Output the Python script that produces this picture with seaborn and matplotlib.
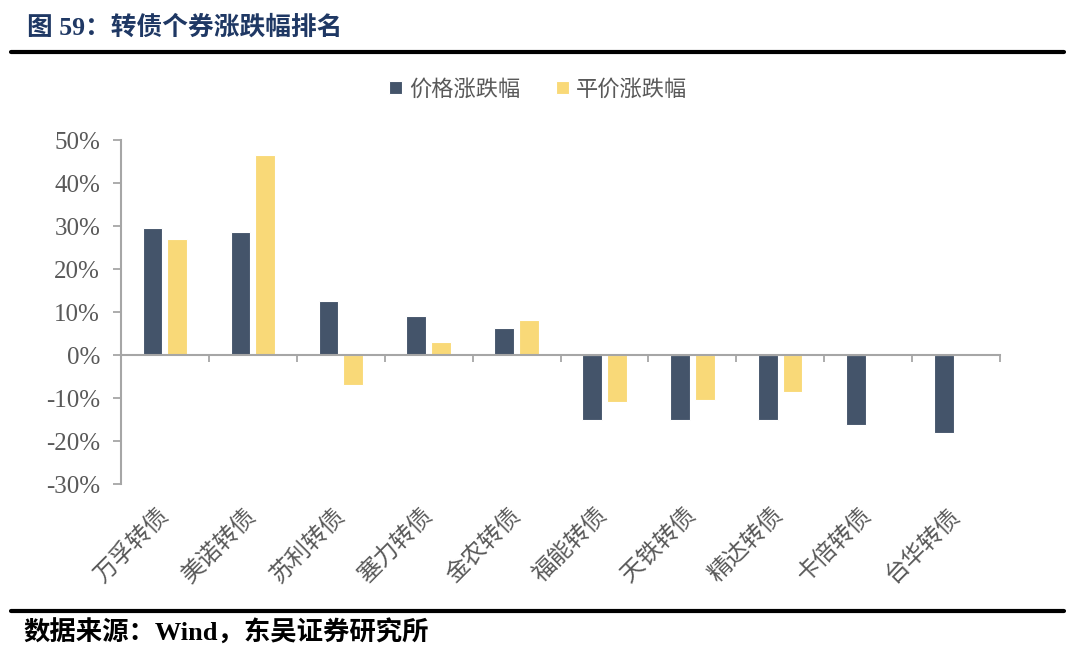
import numpy as np
import pandas as pd
import matplotlib
matplotlib.use('Agg')
import matplotlib.pyplot as plt
import seaborn as sns

# data (percent)
bonds = ['万孚转债', '美诺转债', '苏利转债', '塞力转债', '金农转债',
         '福能转债', '天铁转债', '精达转债', '卡倍转债', '台华转债']
price_chg = [29.5, 28.6, 12.6, 9.1, 6.3, -15.1, -15.1, -15.1, -16.2, -18.1]
parity_chg = [27.0, 46.6, -7.0, 3.0, 8.1, -11.0, -10.5, -8.5, np.nan, np.nan]
series_names = ['价格涨跌幅', '平价涨跌幅']
yticks = [-30, -20, -10, 0, 10, 20, 30, 40, 50]

df = pd.DataFrame({
    'bond': bonds * 2,
    'value': price_chg + parity_chg,
    'series': [series_names[0]] * len(bonds) + [series_names[1]] * len(bonds),
})

sns.set_style('white')
plt.rcParams['font.family'] = ['Liberation Serif', 'Noto Sans CJK SC', 'DejaVu Sans']

dark = '#44546A'
yellow = '#F9D978'
grey = '#A6A6A6'
txt = '#595959'

fig = plt.figure(figsize=(10.8, 6.58), dpi=100)
ax = fig.add_axes([0.112, 0.2644, 0.814, 0.5228])

sns.barplot(data=df, x='bond', y='value', hue='series', palette=[dark, yellow],
            width=0.56, gap=0.2, saturation=1, edgecolor='white', linewidth=0.8, ax=ax)

ax.set_xlim(-0.5, len(bonds) - 0.5)
ax.set_ylim(-30, 50)
ax.set_yticks(yticks)
ax.set_yticklabels([f'{v}%' for v in yticks], fontsize=18, color=txt,
                   family=['Liberation Serif'])
ax.set_xlabel('')
ax.set_ylabel('')

for s in ['top', 'right']:
    ax.spines[s].set_visible(False)
ax.spines['bottom'].set_position(('data', 0))
ax.spines['bottom'].set_color(grey)
ax.spines['left'].set_color(grey)
ax.spines['bottom'].set_linewidth(1.5)
ax.spines['left'].set_linewidth(1.5)

# category labels at centres, tick marks at boundaries
ax.set_xticks(range(len(bonds)))
ax.set_xticklabels(bonds, rotation=45, ha='right', va='center', rotation_mode='anchor',
                   fontsize=17, color=txt, family=['Noto Sans CJK SC'])
ax.set_xticks(np.arange(-0.5, len(bonds), 1), minor=True)
ax.tick_params(axis='x', which='major', bottom=True, length=0, pad=113)
ax.tick_params(axis='x', which='minor', bottom=True, length=5, width=1.3, color=grey,
               direction='out')
ax.tick_params(axis='y', left=True, length=6, width=1.3, color=grey, direction='out', pad=9)

handles, labels = ax.get_legend_handles_labels()
ax.legend_.remove()
fig.legend(handles, labels, loc='center', bbox_to_anchor=(0.498, 0.865), ncol=2,
           frameon=False, handlelength=0.6, handleheight=0.5,
           handletextpad=0.3, columnspacing=1.6,
           prop={'family': ['Noto Sans CJK SC'], 'size': 16},
           labelcolor=txt)

# header and footer
fig.text(0.025, 0.958, '图 59：转债个券涨跌幅排名', fontsize=18.5, fontweight='bold',
         color='#1F3864', va='center', family=['Liberation Serif', 'Noto Sans CJK SC'])
fig.add_artist(plt.Line2D([0.01, 0.985], [0.921, 0.921], color='black', lw=3))
fig.add_artist(plt.Line2D([0.01, 0.985], [0.071, 0.071], color='black', lw=3))
fig.text(0.022, 0.038, '数据来源：Wind，东吴证券研究所', fontsize=19, fontweight='bold',
         color='black', va='center', family=['Liberation Serif', 'Noto Sans CJK SC'])

fig.savefig('out.png', dpi=100)
